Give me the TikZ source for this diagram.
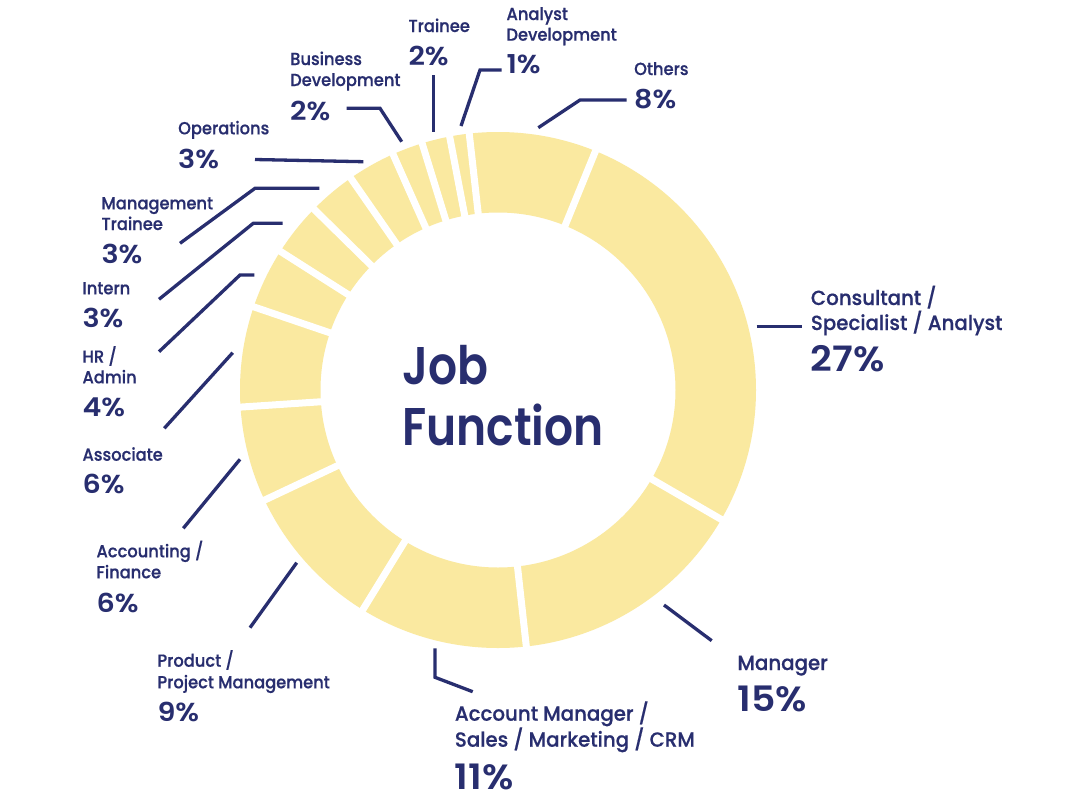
\documentclass[tikz,border=0pt]{standalone}
\usepackage{fontspec}
\IfFontExistsTF{Poppins Medium}{%
  \newfontfamily\fmed{Poppins Medium}[FakeStretch=0.93,FakeBold=0.5]%
  \newfontfamily\fmedL{Poppins Medium}[FakeStretch=0.965,FakeBold=0.5]}{%
  \newfontfamily\fmed{Poppins}[FakeStretch=0.93,FakeBold=1]%
  \newfontfamily\fmedL{Poppins}[FakeStretch=0.965,FakeBold=1]}
\IfFontExistsTF{Poppins SemiBold}{%
  \newfontfamily\fsemi{Poppins SemiBold}[FakeStretch=1.1]%
  \newfontfamily\fsemiL{Poppins SemiBold}[FakeStretch=1.08]%
  \newfontfamily\fttl{Poppins SemiBold}[FakeStretch=0.86]}{%
  \newfontfamily\fsemi{Poppins}[FakeBold=1,FakeStretch=1.1]%
  \newfontfamily\fsemiL{Poppins}[FakeBold=1,FakeStretch=1.08]%
  \newfontfamily\fttl{Poppins}[FakeBold=1,FakeStretch=0.86]}
\definecolor{navy}{RGB}{40,46,111}
\definecolor{ringc}{RGB}{250,233,160}
\begin{document}
\begin{tikzpicture}[x=1pt,y=-1pt,
  lbl/.style={anchor=base west, inner sep=0, text=navy, font=\fmed\fontsize{17.5}{21}\selectfont},
  pct/.style={anchor=base west, inner sep=0, text=navy, font=\fsemi\fontsize{26}{30}\selectfont},
  lblL/.style={lbl, font=\fmedL\fontsize{20.5}{25}\selectfont},
  pctL/.style={pct, font=\fsemiL\fontsize{35}{40}\selectfont},
  ttl/.style={anchor=base west, inner sep=0, text=navy, font=\fttl\fontsize{53}{60}\selectfont},
  lead/.style={draw=navy, line width=3.3pt},
  gap/.style={draw=white, line width=7pt}]
\fill[white] (0,0) rectangle (1080,809);
\useasboundingbox (0,0) rectangle (1080,809);
\coordinate (C) at (498,390);
% ring
\fill[ringc, even odd rule] (C) circle[radius=258] (C) circle[radius=177.5];
\foreach \a in {-96.4,-67.8,30.1,83.7,121.6,154.75,176.2,198.8,212.5,224.5,235.2,246.0,252.9,259.2}
  \draw[gap] (C) ++(\a:170) -- ++(\a:95);
% title
\node[ttl] (t1) at (402,384.4) {Job};
\node[ttl] (t2) at (402,445.7) {Function};
% small labels
\node[lbl] (tr1) at (408.3,32) {Trainee};
\node[pct] (trp) at (408.3,65.7) {2\%};
\node[lbl] (ad1) at (506.3,20) {Analyst};
\node[lbl] (ad2) at (506.3,40.7) {Development};
\node[pct] (adp) at (506.3,73.3) {1\%};
\node[lbl] (ot1) at (634,75) {Others};
\node[pct] (otp) at (634,108.3) {8\%};
\node[lbl] (bd1) at (290,65) {Business};
\node[lbl] (bd2) at (290,86) {Development};
\node[pct] (bdp) at (290,120) {2\%};
\node[lbl] (op1) at (178,134.3) {Operations};
\node[pct] (opp) at (178,168.3) {3\%};
\node[lbl] (mt1) at (101.3,209.3) {Management};
\node[lbl] (mt2) at (101.3,230) {Trainee};
\node[pct] (mtp) at (101.3,263.3) {3\%};
\node[lbl] (in1) at (82.3,294.3) {Intern};
\node[pct] (inp) at (82.3,327.7) {3\%};
\node[lbl] (hr1) at (82.3,362.7) {HR /};
\node[lbl] (hr2) at (82.3,383.3) {Admin};
\node[pct] (hrp) at (82.3,416.7) {4\%};
\node[lbl] (as1) at (82.3,460.7) {Associate};
\node[pct] (asp) at (82.3,493.3) {6\%};
\node[lbl] (ac1) at (96.3,557.3) {Accounting /};
\node[lbl] (ac2) at (96.3,578.3) {Finance};
\node[pct] (acp) at (96.3,612.7) {6\%};
\node[lbl] (pr1) at (157.3,666.7) {Product /};
\node[lbl] (pr2) at (157.3,688.3) {Project Management};
\node[pct] (prp) at (157.3,721.7) {9\%};
% large labels
\node[lblL] (cs1) at (810.7,305) {Consultant /};
\node[lblL] (cs2) at (810.7,330) {Specialist / Analyst};
\node[pctL] (csp) at (810.7,371.7) {27\%};
\node[lblL] (mg1) at (737.3,670) {Manager};
\node[pctL] (mgp) at (737.3,711.7) {15\%};
\node[lblL] (am1) at (454.7,720.7) {Account Manager /};
\node[lblL] (am2) at (454.7,746.7) {Sales / Marketing / CRM};
\node[pctL] (amp) at (454.7,789.3) {11\%};
% leader lines
\coordinate (o1) at (538.3,127.7); \coordinate (o2) at (580,100); \coordinate (o3) at (626.7,100);
\draw[lead] (o1) -- (o2) -- (o3);
\coordinate (a1) at (461,126); \coordinate (a2) at (480,70); \coordinate (a3) at (501.7,70);
\draw[lead] (a1) -- (a2) -- (a3);
\coordinate (r1) at (433.3,131.7); \coordinate (r2) at (433.3,75);
\draw[lead] (r1) -- (r2);
\coordinate (b1) at (401.7,141.7); \coordinate (b2) at (380,108.3); \coordinate (b3) at (346.7,108.3);
\draw[lead] (b1) -- (b2) -- (b3);
\coordinate (p1) at (363.3,161.7); \coordinate (p2) at (255,159.5);
\draw[lead] (p1) -- (p2);
\coordinate (m1) at (319.3,188.3); \coordinate (m2) at (255,188.3); \coordinate (m3) at (180,243.3);
\draw[lead] (m1) -- (m2) -- (m3);
\coordinate (i1) at (282.7,223.3); \coordinate (i2) at (253.3,223.3); \coordinate (i3) at (159,299.3);
\draw[lead] (i1) -- (i2) -- (i3);
\coordinate (h1) at (254.3,275); \coordinate (h2) at (240,275); \coordinate (h3) at (159,351.7);
\draw[lead] (h1) -- (h2) -- (h3);
\coordinate (s1) at (232.7,352.7); \coordinate (s2) at (164.3,428.3);
\draw[lead] (s1) -- (s2);
\coordinate (f1) at (240,459.3); \coordinate (f2) at (183.3,528.3);
\draw[lead] (f1) -- (f2);
\coordinate (q1) at (296.7,562.7); \coordinate (q2) at (250,627.7);
\draw[lead] (q1) -- (q2);
\coordinate (k1) at (435,648.3); \coordinate (k2) at (435,677.3); \coordinate (k3) at (472.7,691.7);
\draw[lead] (k1) -- (k2) -- (k3);
\coordinate (g1) at (664,605); \coordinate (g2) at (711.7,640.7);
\draw[lead] (g1) -- (g2);
\coordinate (c1) at (756.7,326.7); \coordinate (c2) at (801.7,326.7);
\draw[lead] (c1) -- (c2);
\end{tikzpicture}
\end{document}
